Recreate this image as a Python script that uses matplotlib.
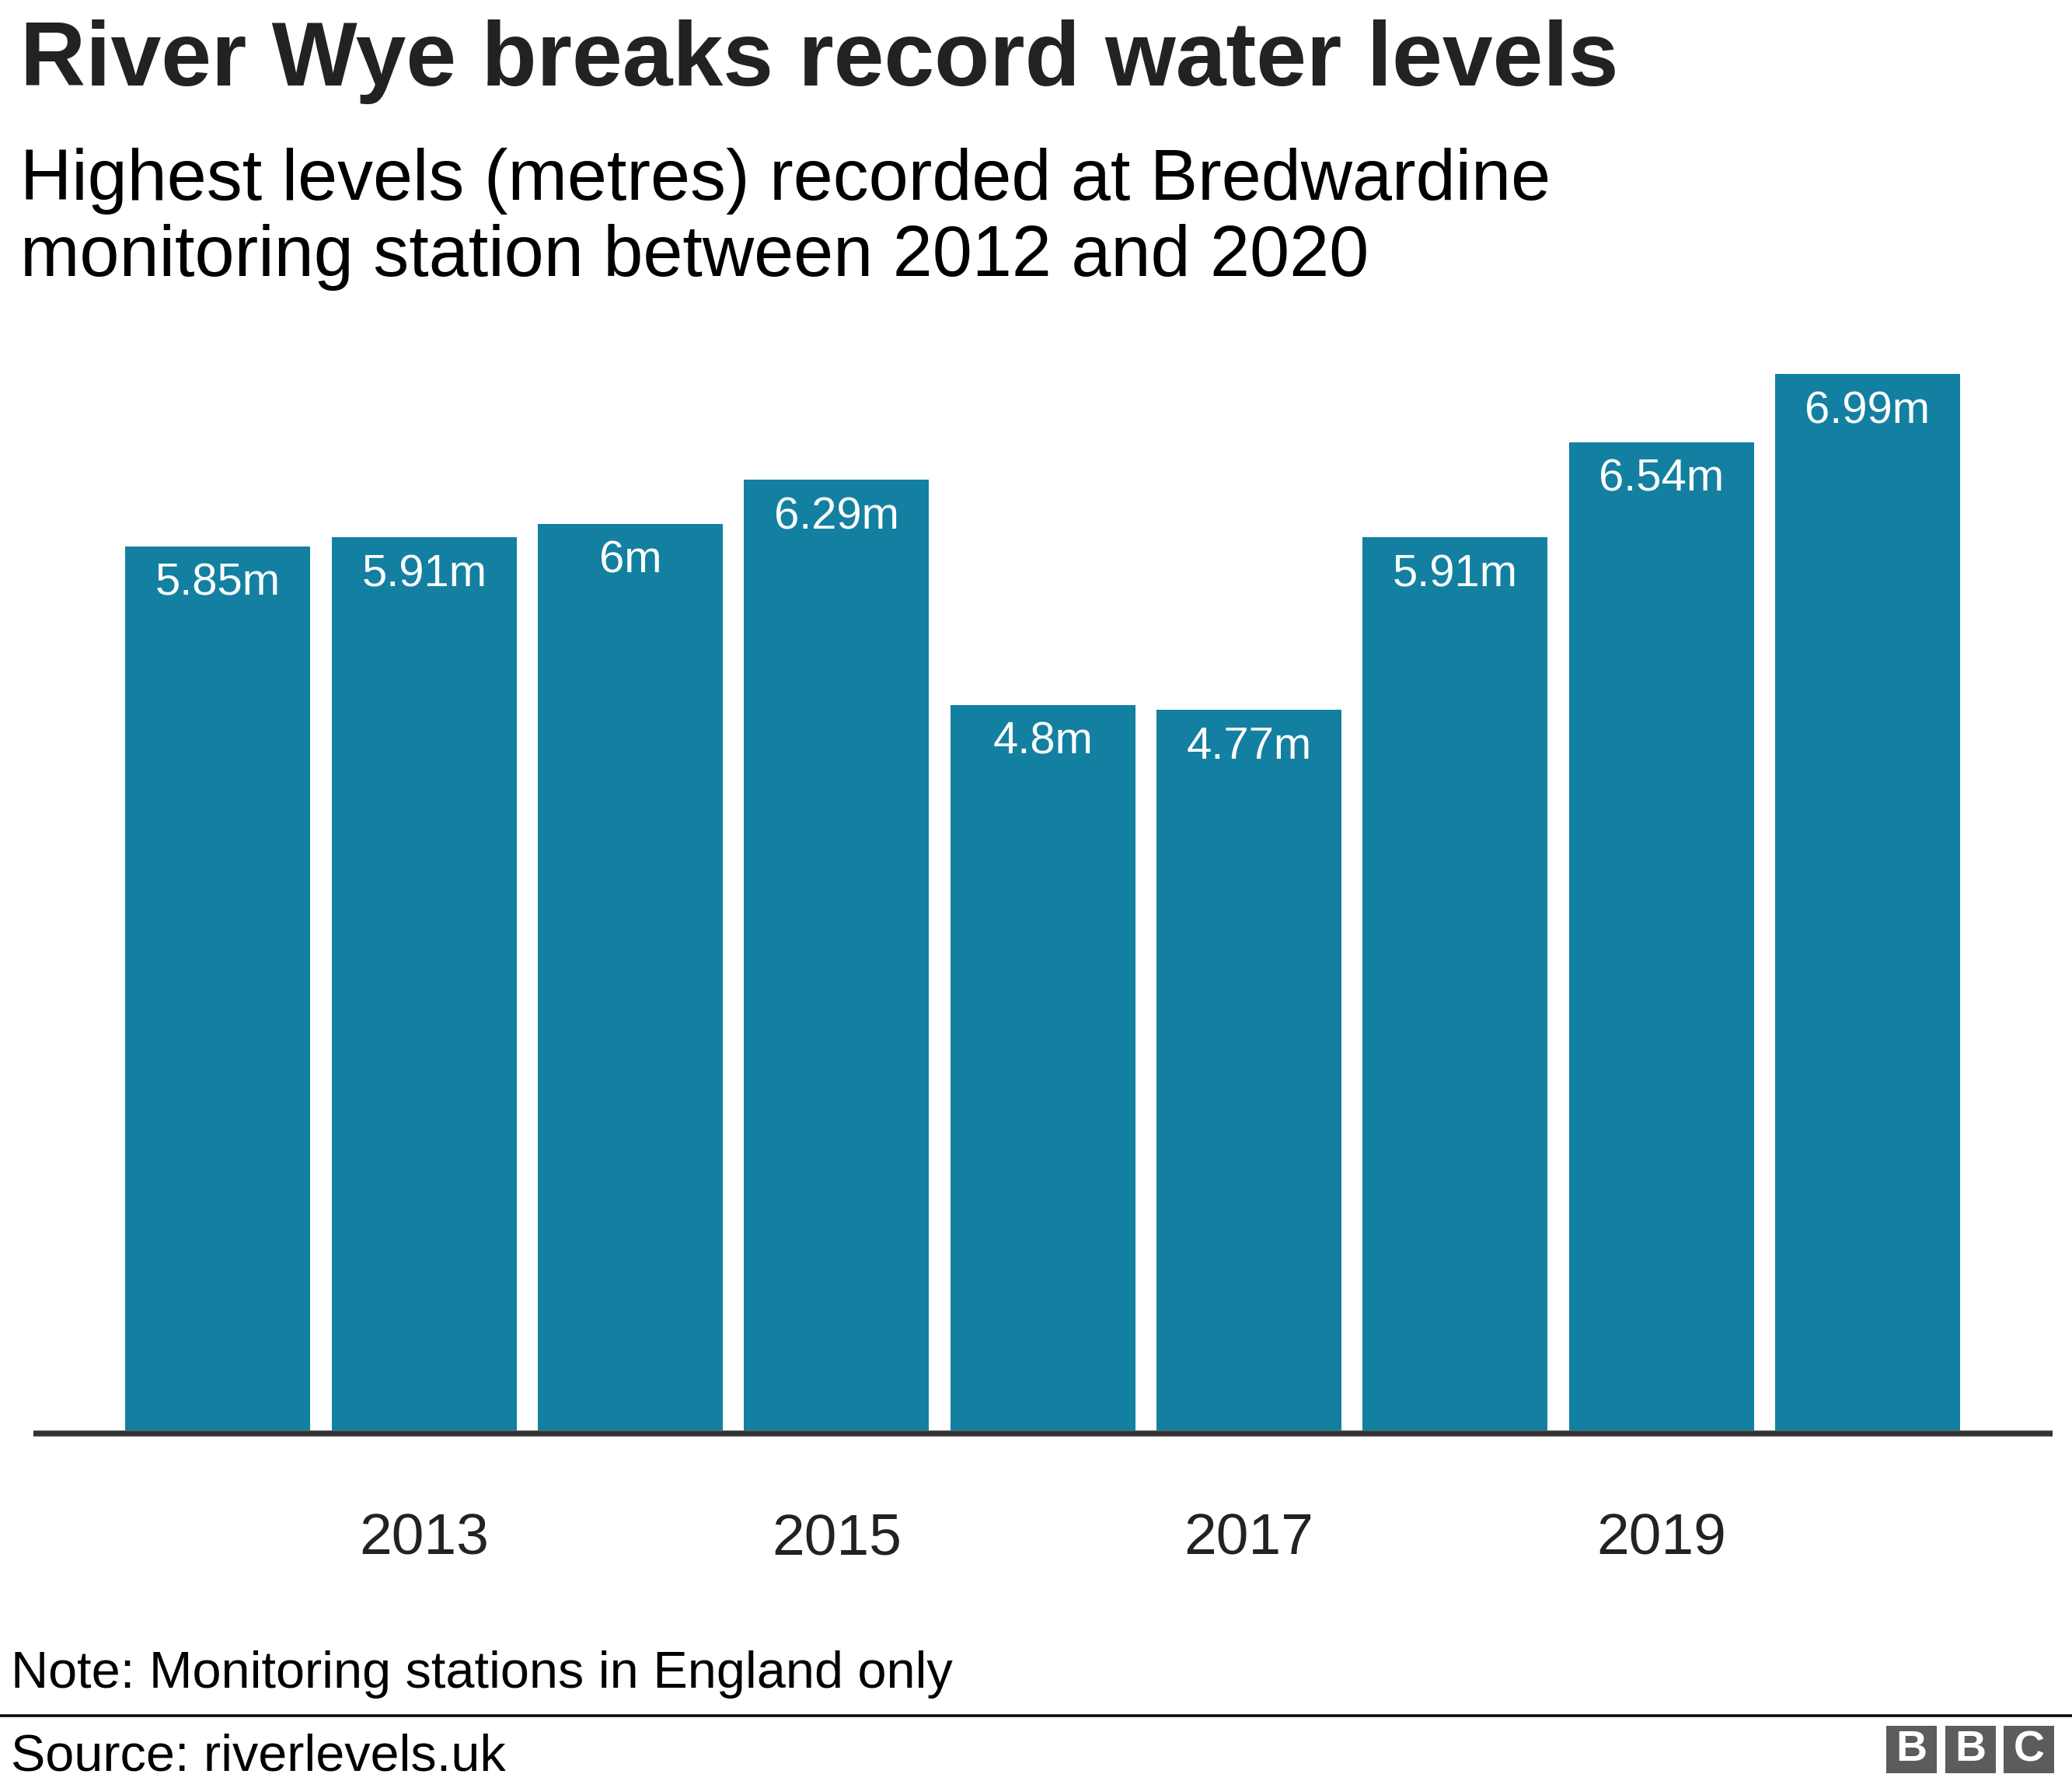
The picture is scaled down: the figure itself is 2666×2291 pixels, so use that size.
import matplotlib
matplotlib.use('Agg')
import matplotlib.pyplot as plt
from matplotlib.lines import Line2D
from matplotlib.patches import Rectangle

# ---- data ----
years = [2012, 2013, 2014, 2015, 2016, 2017, 2018, 2019, 2020]
levels = [5.85, 5.91, 6.00, 6.29, 4.80, 4.77, 5.91, 6.54, 6.99]
value_labels = ['5.85m', '5.91m', '6m', '6.29m', '4.8m', '4.77m', '5.91m', '6.54m', '6.99m']
tick_years = [2013, 2015, 2017, 2019]

title = 'River Wye breaks record water levels'
subtitle_lines = ['Highest levels (metres) recorded at Bredwardine',
                  'monitoring station between 2012 and 2020']
note = 'Note: Monitoring stations in England only'
source = 'Source: riverlevels.uk'

# ---- figure ----
W, H = 2666, 2291
DPI = 100
FONT = 'Liberation Sans'
BAR = '#1380A1'
DARK = '#222222'
BLACK = '#000000'

plt.rcParams['font.family'] = [FONT, 'DejaVu Sans']
fig = plt.figure(figsize=(W / DPI, H / DPI), dpi=DPI)
fig.patch.set_facecolor('white')

def fx(px):
    return px / W

def fy(py):
    return 1 - py / H

base_y = 1840.0
px_per_m = 194.4
ymax = 7.5
ax = fig.add_axes([fx(42.5), (H - base_y) / H, 2598 / W, ymax * px_per_m / H])
xs = list(range(len(years)))
ax.bar(xs, levels, width=0.897, color=BAR, zorder=2)
ax.set_xlim(-0.897, 8.895)
ax.set_ylim(0, ymax)
for s in ax.spines.values():
    s.set_visible(False)
ax.set_xticks([])
ax.set_yticks([])
ax.patch.set_alpha(0)

fit_items = []

# value labels inside bars
for xi, v, lab in zip(xs, levels, value_labels):
    t = ax.annotate(lab, (xi, v), xytext=(0, -63 * 0.72), textcoords='offset points',
                    ha='center', va='baseline', color='white', fontsize=44, family=FONT)
    if lab == '5.85m':
        ref_val = t
    fit_items.append(('val', t))

# year tick labels
tick_texts = []
for y in tick_years:
    xi = years.index(y)
    t = ax.annotate(str(y), (xi, 0), xytext=(0, -(1999 - base_y) * 0.72), textcoords='offset points',
                    ha='center', va='baseline', color=DARK, fontsize=56, family=FONT)
    tick_texts.append(t)

# baseline axis line
fig.add_artist(Line2D([fx(42.5), fx(2640.5)], [fy(1843.5), fy(1843.5)],
                      color='#333333', linewidth=7.5 * 0.72, solid_capstyle='butt', zorder=3))

# titles
t_title = fig.text(fx(25.5), fy(110.5), title, ha='left', va='baseline', fontsize=82,
                   fontweight='bold', color=DARK, family=FONT)
t_sub1 = fig.text(fx(25.5), fy(257), subtitle_lines[0], ha='left', va='baseline', fontsize=67,
                  color=BLACK, family=FONT)
t_sub2 = fig.text(fx(25.5), fy(355.5), subtitle_lines[1], ha='left', va='baseline', fontsize=67,
                  color=BLACK, family=FONT)

t_note = fig.text(fx(13.6), fy(2171), note, ha='left', va='baseline', fontsize=48,
                  color=BLACK, family=FONT)
fig.add_artist(Line2D([0, 1], [fy(2206.5), fy(2206.5)], color=BLACK,
                      linewidth=3.5 * 0.72, zorder=3))
t_src = fig.text(fx(13.6), fy(2277), source, ha='left', va='baseline', fontsize=48,
                 color=BLACK, family=FONT)

# BBC logo blocks
for bx, letter in zip([2427, 2503, 2578], ['B', 'B', 'C']):
    fig.add_artist(Rectangle((fx(bx), fy(2281)), 65 / W, 61 / H, transform=fig.transFigure,
                             facecolor='#5c5c5c', edgecolor='none'))
    fig.text(fx(bx + 32.5), fy(2251), letter, ha='center', va='center', color='white',
             fontsize=40, fontweight='bold', family=FONT)

# fit font sizes to measured widths in the reference
targets = [(t_title, 2059), (t_sub1, 1967), (t_note, 1211), (t_src, 636)]
fig.canvas.draw()
r = fig.canvas.get_renderer()
for t, w in targets:
    cur = t.get_window_extent(r).width
    t.set_fontsize(t.get_fontsize() * w / cur)
t_sub2.set_fontsize(t_sub1.get_fontsize())
# value labels
cur = ref_val.get_window_extent(r).width
vs = ref_val.get_fontsize() * 161.5 / cur
for _, t in fit_items:
    t.set_fontsize(vs)
cur = tick_texts[0].get_window_extent(r).width
ts = tick_texts[0].get_fontsize() * 167 / cur
for t in tick_texts:
    t.set_fontsize(ts)

fig.savefig('out.png', dpi=DPI, facecolor='white')
